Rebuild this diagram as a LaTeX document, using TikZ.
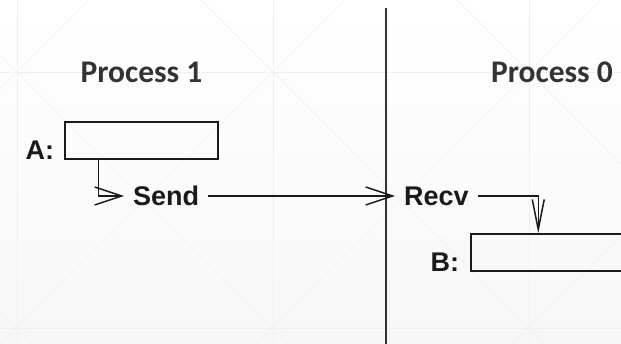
\documentclass[tikz,border=0pt]{standalone}
\usepackage{fontspec}
\setmainfont{Liberation Sans}
\newfontfamily\titlefont{Carlito}
\usetikzlibrary{arrows.meta}

\definecolor{ink}{HTML}{1A1A1A}
\definecolor{titleink}{HTML}{333333}
\definecolor{bglow}{HTML}{F7F7F7}
\definecolor{bgline}{HTML}{EFEFEF}

\tikzset{
  title/.style={font=\titlefont\bfseries\fontsize{31.5}{36}\selectfont, text=titleink, inner sep=0pt, anchor=base},
  lbl/.style={font=\bfseries\fontsize{27}{30}\selectfont, text=ink, inner sep=0pt},
  msg/.style={lbl, inner xsep=9pt, anchor=west},
  membox/.style={draw=ink, line width=1.5pt, minimum width=153pt, minimum height=37pt, inner sep=0pt},
  flow/.style={draw=ink, line width=1.5pt},
  sidearrow/.style={flow, -{Straight Barb[length=27pt, width=18pt, line width=1.5pt]}},
  downarrow/.style={flow, -{Straight Barb[length=30pt, width=12pt, line width=1.5pt]}},
  divider/.style={draw=titleink, line width=2pt},
  lattice/.style={draw=bgline, line width=0.7pt}
}

\begin{document}
\begin{tikzpicture}[x=1pt, y=-1pt]
  \useasboundingbox (0,0) rectangle (621,344);

  % soft background with a faint diamond lattice
  \shade[top color=white, bottom color=bglow] (0,0) rectangle (621,344);
  \begin{scope}
    \clip (0,0) rectangle (621,344);
    \foreach \gx in {17,273,529} \draw[lattice] (\gx,0) -- (\gx,344);
    \foreach \gy in {72,328} \draw[lattice] (0,\gy) -- (621,\gy);
    \foreach \k in {-2,...,3} {
      \pgfmathsetmacro{\c}{-55+256*\k}
      \draw[lattice] (\c-100,-100) -- (\c+500,500);
      \pgfmathsetmacro{\d}{89+256*\k}
      \draw[lattice] (\d+100,-100) -- (\d-500,500);
    }
  \end{scope}

  % process boundary
  \coordinate (divtop) at (386,8);
  \coordinate (divbot) at (386,344);
  \draw[divider] (divtop) -- (divbot);

  % process titles
  \node[title] (p1) at (141.5,83) {Process 1};
  \node[title] (p0) at (552,83) {Process 0};

  % buffers
  \node[membox] (boxA) at (141.5,140.5) {};
  \node[lbl, anchor=base east] (labA) at ([xshift=-10pt]boxA.south west) {A:};

  \node[membox] (boxB) at (547.5,252.5) {};
  \node[lbl, anchor=base east] (labB) at ([xshift=-11pt]boxB.south west) {B:};

  % operations
  \node[msg] (send) at (124,196) {Send};
  \node[msg] (recv) at (395,196) {Recv};

  % data flow
  \draw[sidearrow] ([xshift=34pt]boxA.south west) |- (send.west);
  \draw[sidearrow] (send.east) -- (recv.west);
  \draw[downarrow] (recv.east) -| ([xshift=68pt]boxB.north west);
\end{tikzpicture}
\end{document}
